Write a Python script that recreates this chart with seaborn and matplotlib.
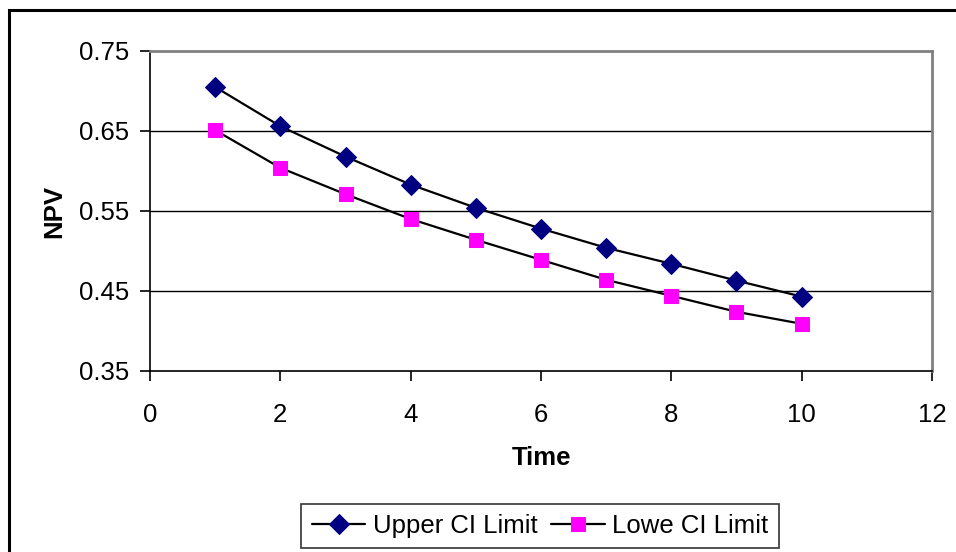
import matplotlib
matplotlib.use("Agg")
import matplotlib.pyplot as plt
import seaborn as sns
import pandas as pd
from matplotlib.patches import Rectangle

time = [1, 2, 3, 4, 5, 6, 7, 8, 9, 10]
upper_ci = [0.705, 0.656, 0.618, 0.583, 0.554, 0.528, 0.504, 0.484, 0.463, 0.443]
lower_ci = [0.651, 0.604, 0.571, 0.540, 0.514, 0.489, 0.464, 0.444, 0.424, 0.409]
x_ticks = [0, 2, 4, 6, 8, 10, 12]
y_ticks = [0.35, 0.45, 0.55, 0.65, 0.75]

sns.set_theme(style="white")
plt.rcParams["font.family"] = ["Liberation Sans", "DejaVu Sans"]
plt.rcParams["text.color"] = "black"
plt.rcParams["axes.labelcolor"] = "black"

df = pd.DataFrame({"Time": time, "Upper CI Limit": upper_ci, "Lowe CI Limit": lower_ci})

fig = plt.figure(figsize=(9.56, 5.52), dpi=100)
ax = fig.add_axes([150 / 956, 1 - 371 / 552, (932 - 150) / 956, (371 - 51) / 552])

sns.lineplot(data=df, x="Time", y="Upper CI Limit", ax=ax, color="black", lw=1.6,
             marker="D", markersize=10, markerfacecolor="#000080",
             markeredgecolor="#000080", label="Upper CI Limit", zorder=3)
sns.lineplot(data=df, x="Time", y="Lowe CI Limit", ax=ax, color="black", lw=1.6,
             marker="s", markersize=10, markerfacecolor="#FF00FF",
             markeredgecolor="#FF00FF", label="Lowe CI Limit", zorder=3)

ax.set_xlim(0, 12)
ax.set_ylim(0.35, 0.75)
ax.set_xticks(x_ticks)
ax.set_yticks(y_ticks)
ax.set_xticklabels([str(v) for v in x_ticks])
ax.set_yticklabels([f"{v:.2f}" for v in y_ticks])

for y in y_ticks[1:-1]:
    ax.axhline(y, color="black", lw=1.0, zorder=1)

for side in ["left", "bottom"]:
    ax.spines[side].set_color("black")
    ax.spines[side].set_linewidth(1.2)
for side in ["top", "right"]:
    ax.spines[side].set_visible(True)
    ax.spines[side].set_color("#808080")
    ax.spines[side].set_linewidth(2.0)

ax.tick_params(axis="both", which="major", direction="out", length=7, width=1.2,
               color="black", labelsize=18.5, labelcolor="black",
               left=True, bottom=True)
ax.tick_params(axis="y", pad=8)
ax.tick_params(axis="x", pad=16)

ax.set_xlabel("Time", fontsize=18.5, fontweight="bold", labelpad=14, color="black")
ax.set_ylabel("NPV", fontsize=18.5, fontweight="bold", labelpad=9, color="black")

ax.get_legend().remove()
handles, labels = ax.get_legend_handles_labels()
leg = fig.legend(handles, labels, loc="center", bbox_to_anchor=(540 / 956, 1 - 526 / 552),
                 ncol=2, fontsize=18.5, frameon=True, fancybox=False,
                 handlelength=2.1, handletextpad=0.3, columnspacing=0.5,
                 borderpad=0.4, borderaxespad=0)
leg.get_frame().set_edgecolor("black")
leg.get_frame().set_linewidth(1.2)

fig.patches.append(Rectangle((8.5 / 956, -0.1), 1.2, 1 - 9.5 / 552 + 0.1,
                             transform=fig.transFigure, fill=False,
                             edgecolor="black", lw=2.2))

fig.savefig("out.png", dpi=100)
